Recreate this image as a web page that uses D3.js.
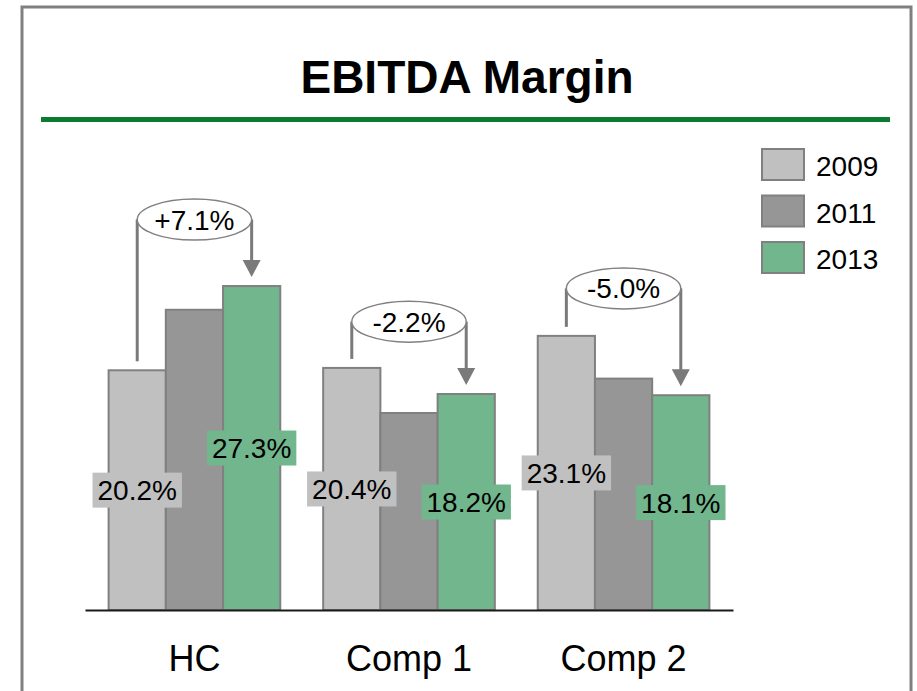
<!DOCTYPE html>
<html>
<head>
<meta charset="utf-8">
<script src="https://cdn.jsdelivr.net/npm/d3@7"></script>
<style>
  html, body { margin: 0; padding: 0; background: #fff; }
  svg { display: block; font-family: "Liberation Sans", Arial, sans-serif; }
</style>
</head>
<body>
<div id="chart"></div>
<script>
// ---- Data ----
const categories = ["HC", "Comp 1", "Comp 2"];
const years = ["2009", "2011", "2013"];
const values2009 = [20.2, 20.4, 23.1];
const values2011 = [25.3, 16.6, 19.5];
const values2013 = [27.3, 18.2, 18.1];
const calloutLevel = [32.9, 24.3, 27.1]; // value level of the change callout
const seriesColors = ["#c0c0c0", "#969696", "#72b68d"];
const titleText = "EBITDA Margin";

const series = [values2009, values2011, values2013];

// ---- Setup ----
const W = 917, H = 691;
const svg = d3.select("#chart").append("svg").attr("width", W).attr("height", H);

// Frame
svg.append("rect")
  .attr("x", 22).attr("y", 7).attr("width", 889).attr("height", 720)
  .attr("fill", "#fff").attr("stroke", "#808080").attr("stroke-width", 3);

// Title
svg.append("text")
  .attr("x", 467).attr("y", 93)
  .attr("text-anchor", "middle")
  .attr("font-size", 46).attr("font-weight", "bold").attr("fill", "#000")
  .text(titleText);

// Green rule
svg.append("line")
  .attr("x1", 41).attr("x2", 890).attr("y1", 119.5).attr("y2", 119.5)
  .attr("stroke", "#0d7a32").attr("stroke-width", 5);

// Scales
const x = d3.scaleBand().domain(categories).range([85, 733])
  .paddingInner(0.2).paddingOuter(0.11);
const xs = d3.scaleBand().domain(years).range([0, x.bandwidth()]);
const y = d3.scaleLinear().domain([0, 30]).range([610, 254]);
const color = d3.scaleOrdinal().domain(years).range(seriesColors);

// Bars
const rows = [];
categories.forEach((c, i) => {
  years.forEach((yr, j) => rows.push({ cat: c, year: yr, value: series[j][i], ci: i, j }));
});

svg.append("g").selectAll("rect").data(rows).join("rect")
  .attr("x", d => x(d.cat) + xs(d.year))
  .attr("y", d => y(d.value))
  .attr("width", xs.bandwidth())
  .attr("height", d => y(0) - y(d.value))
  .attr("fill", d => color(d.year))
  .attr("stroke", "#808080").attr("stroke-width", 2);

// Axis
const axis = svg.append("g").attr("transform", `translate(0,${y(0)})`)
  .call(d3.axisBottom(x).tickSize(0).tickPadding(35));
axis.select(".domain").attr("stroke", "#1a1a1a").attr("stroke-width", 2);
axis.selectAll("text").attr("font-size", 36).attr("fill", "#000")
  .attr("font-family", "Liberation Sans, Arial, sans-serif");

// Value labels (2009 and 2013 only)
const fmt = v => v.toFixed(1) + "%";
const labelRows = rows.filter(d => d.year !== "2011");
const lg = svg.append("g");
labelRows.forEach(d => {
  const cx = x(d.cat) + xs(d.year) + xs.bandwidth() / 2;
  const cy = (y(d.value) + y(0)) / 2;
  const g = lg.append("g");
  const t = g.append("text")
    .attr("x", cx).attr("y", cy + 10)
    .attr("text-anchor", "middle").attr("font-size", 28).attr("fill", "#000")
    .text(fmt(d.value));
  const bb = t.node().getBBox();
  g.insert("rect", "text")
    .attr("x", bb.x - 5).attr("y", cy - 17.5)
    .attr("width", bb.width + 10).attr("height", 35)
    .attr("fill", color(d.year));
});

// Change callouts
const cg = svg.append("g");
categories.forEach((c, i) => {
  const x0 = x(c) + xs("2009") + xs.bandwidth() / 2;
  const x1 = x(c) + xs("2013") + xs.bandwidth() / 2;
  const cy = y(calloutLevel[i]);
  const startY = y(values2009[i]) - 9;
  const tipY = y(values2013[i]) - 9;
  const stroke = "#7a7a7a";
  cg.append("line").attr("x1", x0).attr("x2", x0).attr("y1", startY).attr("y2", cy)
    .attr("stroke", stroke).attr("stroke-width", 3);
  cg.append("line").attr("x1", x1).attr("x2", x1).attr("y1", cy).attr("y2", tipY - 14)
    .attr("stroke", stroke).attr("stroke-width", 3);
  cg.append("path")
    .attr("d", `M${x1 - 9},${tipY - 17} L${x1 + 9},${tipY - 17} L${x1},${tipY} Z`)
    .attr("fill", stroke);
  cg.append("ellipse")
    .attr("cx", (x0 + x1) / 2).attr("cy", cy)
    .attr("rx", (x1 - x0) / 2).attr("ry", 20.5)
    .attr("fill", "#fff").attr("stroke", "#808080").attr("stroke-width", 1.5);
  const delta = values2013[i] - values2009[i];
  cg.append("text")
    .attr("x", (x0 + x1) / 2).attr("y", cy + 10)
    .attr("text-anchor", "middle").attr("font-size", 28).attr("fill", "#000")
    .text((delta > 0 ? "+" : "") + delta.toFixed(1) + "%");
});

// Legend
const leg = svg.append("g");
years.forEach((yr, j) => {
  const top = 149 + j * 46.5;
  leg.append("rect").attr("x", 762).attr("y", top).attr("width", 42).attr("height", 31)
    .attr("fill", color(yr)).attr("stroke", "#808080").attr("stroke-width", 2);
  leg.append("text").attr("x", 816).attr("y", top + 27)
    .attr("font-size", 28).attr("fill", "#000").text(yr);
});
</script>
</body>
</html>
